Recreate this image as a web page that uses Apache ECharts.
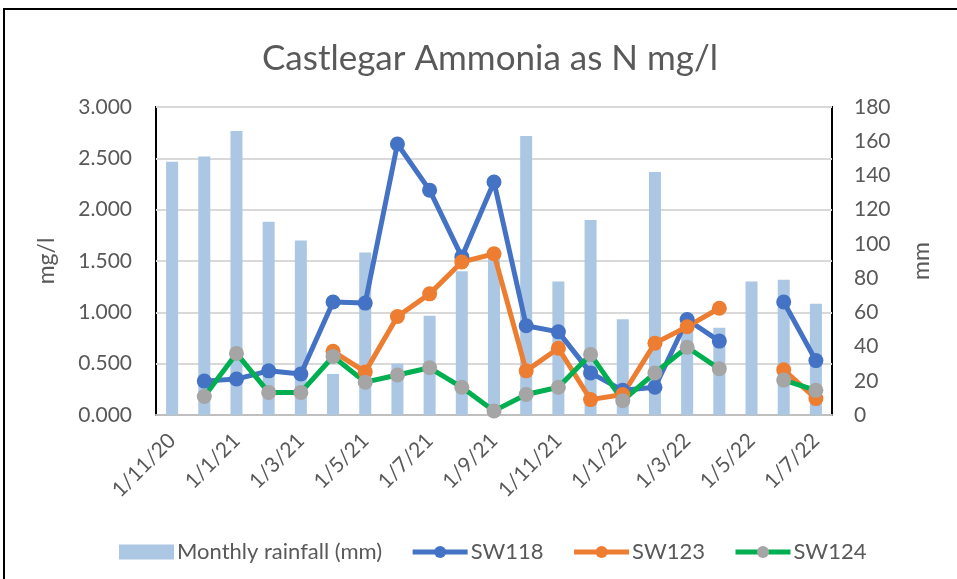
<!DOCTYPE html>
<html>
<head>
<meta charset="utf-8">
<script src="https://cdn.jsdelivr.net/npm/echarts@6/dist/echarts.min.js"></script>
<style>
  html, body { margin: 0; padding: 0; background: #fff; }
  #chart { width: 957px; height: 579px; }
</style>
</head>
<body>
<div id="chart"></div>
<script>
// Sample dates (day/month/year), one per month
const months = ['1/11/20', '1/12/20', '1/1/21', '1/2/21', '1/3/21', '1/4/21', '1/5/21',
  '1/6/21', '1/7/21', '1/8/21', '1/9/21', '1/10/21', '1/11/21', '1/12/21',
  '1/1/22', '1/2/22', '1/3/22', '1/4/22', '1/5/22', '1/6/22', '1/7/22'];

// Monthly rainfall, mm (right axis)
const rainfall = [148, 151, 166, 113, 102, 24, 95, 30, 58, 84, 92, 163, 78, 114, 56, 142, 52, 51, 78, 79, 65];

// Ammonia as N, mg/l (left axis); null = no sample
const sw118 = [null, 0.33, 0.35, 0.43, 0.40, 1.10, 1.09, 2.64, 2.19, 1.54, 2.27, 0.87, 0.81, 0.41, 0.24, 0.27, 0.93, 0.72, null, 1.10, 0.53];
const sw123 = [null, null, null, null, null, 0.62, 0.42, 0.96, 1.18, 1.49, 1.57, 0.43, 0.65, 0.15, 0.20, 0.70, 0.86, 1.04, null, 0.44, 0.16];
const sw124 = [null, 0.18, 0.60, 0.22, 0.22, 0.57, 0.32, 0.39, 0.46, 0.27, 0.04, 0.20, 0.27, 0.59, 0.14, 0.41, 0.66, 0.45, null, 0.34, 0.24];

const leftTicks = { min: 0, max: 3, interval: 0.5 };
const rightTicks = { min: 0, max: 180, interval: 20 };

const FONT = 'Lato';
const TXT = '#595959';

const chart = echarts.init(document.getElementById('chart'));

function lineSeries(name, data, lineColor, markerColor) {
  return {
    name: name,
    type: 'line',
    yAxisIndex: 0,
    data: data,
    connectNulls: false,
    symbol: 'circle',
    symbolSize: 15,
    lineStyle: { color: lineColor, width: 5 },
    itemStyle: { color: markerColor, borderWidth: 0 },
    emphasis: { disabled: true },
    animation: false
  };
}

chart.setOption({
  animation: false,
  backgroundColor: '#fff',
  title: {
    text: 'Castlegar Ammonia as N mg/l',
    left: 485,
    top: 36,
    textAlign: 'center',
    textStyle: { fontFamily: FONT, fontSize: 35, fontWeight: 'normal', color: TXT }
  },
  graphic: [{
    type: 'rect',
    shape: { x: 4, y: 9, width: 1000, height: 1000 },
    style: { fill: 'none', stroke: '#000', lineWidth: 2 },
    silent: true
  }],
  legend: {
    left: 114,
    top: 536,
    itemWidth: 55,
    itemHeight: 15,
    itemGap: 28,
    lineStyle: { width: 5 },
    textStyle: { fontFamily: FONT, fontSize: 22, color: TXT, padding: [0, 0, 0, -2] },
    data: [
      { name: 'Monthly rainfall (mm)', icon: 'rect' },
      { name: 'SW118' },
      { name: 'SW123' },
      { name: 'SW124' }
    ]
  },
  grid: {
    left: 156, right: 125, top: 107, bottom: 164,
    show: true, borderColor: '#000', borderWidth: 2, backgroundColor: 'transparent'
  },
  xAxis: {
    type: 'category',
    data: months,
    boundaryGap: true,
    axisLine: { show: true, lineStyle: { color: '#bfbfbf', width: 2 } },
    axisTick: { show: false },
    axisLabel: {
      interval: 1, rotate: 45, margin: 22,
      fontFamily: FONT, fontSize: 21, color: TXT
    },
    splitLine: { show: false }
  },
  yAxis: [{
    type: 'value',
    min: leftTicks.min, max: leftTicks.max, interval: leftTicks.interval,
    name: 'mg/l',
    nameLocation: 'middle',
    nameGap: 98,
    nameTextStyle: { fontFamily: FONT, fontSize: 23, color: TXT },
    axisLine: { show: false },
    axisTick: { show: false },
    axisLabel: {
      margin: 24, fontFamily: FONT, fontSize: 21, color: TXT,
      formatter: v => v.toFixed(3)
    },
    splitLine: { show: true, lineStyle: { color: '#d9d9d9', width: 2 } }
  }, {
    type: 'value',
    position: 'right',
    min: rightTicks.min, max: rightTicks.max, interval: rightTicks.interval,
    name: 'mm',
    nameLocation: 'middle',
    nameGap: 78,
    nameRotate: 90,
    nameTextStyle: { fontFamily: FONT, fontSize: 23, color: TXT },
    axisLine: { show: false },
    axisTick: { show: false },
    axisLabel: { margin: 22, fontFamily: FONT, fontSize: 21, color: TXT },
    splitLine: { show: false }
  }],
  series: [{
    name: 'Monthly rainfall (mm)',
    type: 'bar',
    yAxisIndex: 1,
    data: rainfall,
    barWidth: 12,
    itemStyle: { color: '#abc7e3' },
    emphasis: { disabled: true }
  },
    lineSeries('SW118', sw118, '#4472c4', '#4472c4'),
    lineSeries('SW123', sw123, '#ed7d31', '#ed7d31'),
    lineSeries('SW124', sw124, '#00b050', '#a5a5a5')
  ]
});
</script>
</body>
</html>
